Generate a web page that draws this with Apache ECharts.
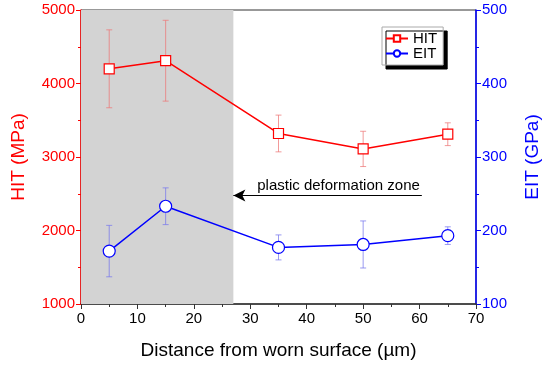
<!DOCTYPE html>
<html><head><meta charset="utf-8">
<script src="https://cdn.jsdelivr.net/npm/echarts@6/dist/echarts.min.js"></script>
<style>html,body{margin:0;padding:0;background:#fff}#c{width:550px;height:368px}</style>
</head><body><div id="c"></div>
<script>
const distance = [5, 15, 35, 50, 65];
const hitValues = [4200, 4310, 3320, 3110, 3310];
const hitErrors = [530, 550, 250, 240, 155];
const eitValues = [172, 233, 177, 181, 193];
const eitErrors = [35, 25, 17, 32, 12];
const zoneStart = 0, zoneEnd = 27;
const arrowFrom = 60.4, arrowTo = 27, arrowLevel = 2476;
const zoneLabel = 'plastic deformation zone';

const FF = '"Liberation Sans", Arial, sans-serif';
const RED = '#ff0000', BLUE = '#0000ff';

function errData(vals, errs){ return distance.map((x,i)=>[x, vals[i]-errs[i], vals[i]+errs[i]]); }
function errRender(color){
  return function(params, api){
    const x = api.value(0);
    const lo = api.coord([x, api.value(1)]);
    const hi = api.coord([x, api.value(2)]);
    const w = 3;
    const st = {stroke: color, lineWidth: 1};
    return {type:'group', children:[
      {type:'line', shape:{x1:lo[0],y1:lo[1],x2:hi[0],y2:hi[1]}, style:st},
      {type:'line', shape:{x1:lo[0]-w,y1:lo[1],x2:lo[0]+w,y2:lo[1]}, style:st},
      {type:'line', shape:{x1:hi[0]-w,y1:hi[1],x2:hi[0]+w,y2:hi[1]}, style:st}
    ]};
  };
}
const plain = v => String(v);

const chart = echarts.init(document.getElementById('c'), null, {renderer:'canvas'});
chart.setOption({
  animation:false,
  textStyle:{fontFamily:FF},
  grid:{left:81, right:73, top:10, bottom:64, show:true, borderColor:'#333', borderWidth:1, backgroundColor:'transparent'},
  legend:{
    orient:'vertical', left:382, top:27, itemGap:0, itemWidth:22, itemHeight:8,
    padding:[4,6,4,3],
    backgroundColor:'#fff', borderColor:'#aaa', borderWidth:1,
    shadowColor:'#000', shadowOffsetX:4, shadowOffsetY:4, shadowBlur:0,
    textStyle:{fontFamily:FF, fontSize:15, color:'#000', lineHeight:15},
    data:['HIT','EIT']
  },
  xAxis:{
    type:'value', min:0, max:70, interval:10,
    name:'Distance from worn surface (µm)', nameLocation:'middle', nameGap:37,
    nameTextStyle:{fontFamily:FF, fontSize:19, color:'#000'},
    axisLine:{lineStyle:{color:'#333', width:1.5}},
    axisTick:{inside:false, length:5, lineStyle:{color:'#333'}},
    minorTick:{show:true, splitNumber:2, length:3, lineStyle:{color:'#333'}},
    splitLine:{show:false},
    axisLabel:{fontFamily:FF, fontSize:15, color:'#000', margin:7, formatter:plain}
  },
  yAxis:[{
    type:'value', min:1000, max:5000, interval:1000, position:'left',
    name:'HIT (MPa)', nameLocation:'middle', nameGap:53, nameRotate:90,
    nameTextStyle:{fontFamily:FF, fontSize:19, color:RED},
    axisLine:{show:true, lineStyle:{color:RED, width:1.5}},
    axisTick:{show:true, length:5, lineStyle:{color:RED}},
    minorTick:{show:true, splitNumber:2, length:3, lineStyle:{color:RED}},
    splitLine:{show:false},
    axisLabel:{fontFamily:FF, fontSize:15, color:RED, margin:6, formatter:plain}
  },{
    type:'value', min:100, max:500, interval:100, position:'right',
    name:'EIT (GPa)', nameLocation:'middle', nameGap:47, nameRotate:90,
    nameTextStyle:{fontFamily:FF, fontSize:19, color:BLUE},
    axisLine:{show:true, lineStyle:{color:BLUE, width:1.5}},
    axisTick:{show:true, length:5, lineStyle:{color:BLUE}},
    minorTick:{show:true, splitNumber:2, length:3, lineStyle:{color:BLUE}},
    splitLine:{show:false},
    axisLabel:{fontFamily:FF, fontSize:15, color:BLUE, margin:6, formatter:plain}
  }],
  series:[
    {
      name:'zone', type:'line', data:[], z:0, silent:true,
      markArea:{silent:true, itemStyle:{color:'#d3d3d3'}, data:[[{xAxis:zoneStart, yAxis:1000},{xAxis:zoneEnd, yAxis:5000}]]},
      markLine:{
        silent:true, symbol:['arrow','none'], symbolSize:[9,12],
        lineStyle:{color:'#000', width:1.2, type:'solid'},
        label:{show:true, position:'insideEndTop', formatter:zoneLabel, color:'#000', fontFamily:FF, fontSize:15, distance:2},
        data:[[{coord:[arrowTo, arrowLevel]},{coord:[arrowFrom, arrowLevel]}]]
      }
    },
    {
      type:'custom', yAxisIndex:0, z:1, silent:true,
      renderItem:errRender('rgba(238,120,120,0.75)'),
      data:errData(hitValues, hitErrors)
    },
    {
      type:'custom', yAxisIndex:1, z:1, silent:true,
      renderItem:errRender('rgba(120,120,238,0.75)'),
      data:errData(eitValues, eitErrors)
    },
    {
      name:'HIT', type:'line', yAxisIndex:0, z:3,
      data:distance.map((x,i)=>[x, hitValues[i]]),
      symbol:'rect', symbolSize:10, showAllSymbol:true,
      lineStyle:{color:RED, width:1.5},
      itemStyle:{color:'#fff', borderColor:RED, borderWidth:1.2},
      emphasis:{disabled:true}
    },
    {
      name:'EIT', type:'line', yAxisIndex:1, z:3,
      data:distance.map((x,i)=>[x, eitValues[i]]),
      symbol:'circle', symbolSize:12, showAllSymbol:true,
      lineStyle:{color:BLUE, width:1.5},
      itemStyle:{color:'#fff', borderColor:BLUE, borderWidth:1.2},
      emphasis:{disabled:true}
    }
  ]
});
</script>
</body></html>
